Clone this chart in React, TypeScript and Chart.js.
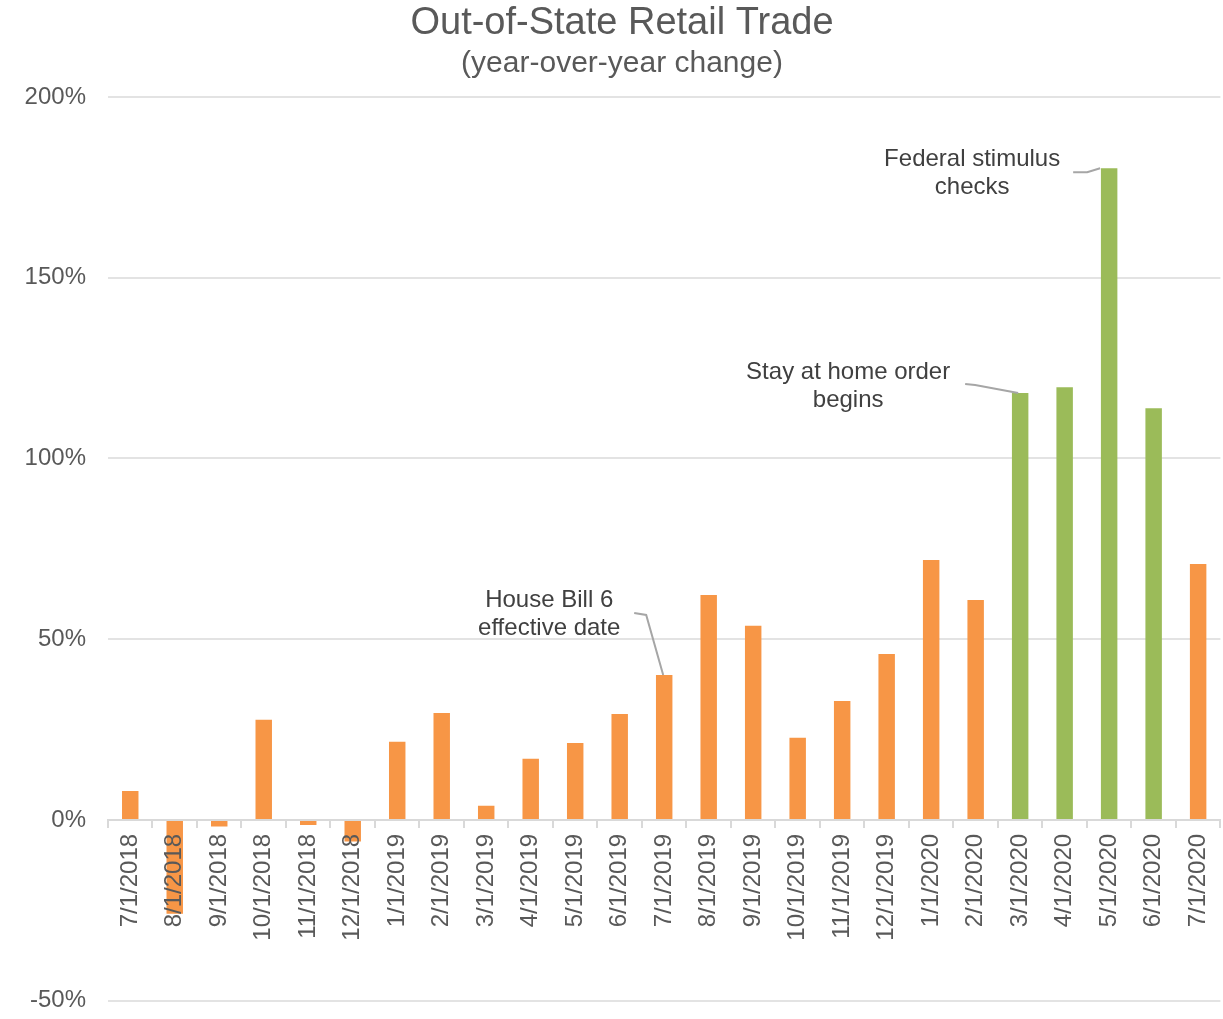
import React, { useEffect, useRef } from "react";
import { Chart, registerables } from "chart.js";

Chart.register(...registerables);

// ---------- data ----------
const categories = [
  "7/1/2018", "8/1/2018", "9/1/2018", "10/1/2018", "11/1/2018", "12/1/2018",
  "1/1/2019", "2/1/2019", "3/1/2019", "4/1/2019", "5/1/2019", "6/1/2019",
  "7/1/2019", "8/1/2019", "9/1/2019", "10/1/2019", "11/1/2019", "12/1/2019",
  "1/1/2020", "2/1/2020", "3/1/2020", "4/1/2020", "5/1/2020", "6/1/2020",
  "7/1/2020",
];

const yoyChange = [
  8, -26, -1.8, 27.7, -1.4, -6,
  21.6, 29.6, 3.9, 16.9, 21.3, 29.3,
  40.1, 62.2, 53.7, 22.7, 32.9, 45.9,
  71.9, 60.8, 118.1, 119.7, 180.3, 113.9,
  70.8,
];

const highlightedMonths = ["3/1/2020", "4/1/2020", "5/1/2020", "6/1/2020"];

const yMin = -50;
const yMax = 200;
const yStep = 50;

const titleText = "Out-of-State Retail Trade";
const subtitleText = "(year-over-year change)";

const annotationLabels = [
  { category: "7/1/2019", lines: ["House Bill 6", "effective date"] },
  { category: "3/1/2020", lines: ["Stay at home order", "begins"] },
  { category: "5/1/2020", lines: ["Federal stimulus", "checks"] },
];

// ---------- styles / layout ----------
const FONT = "'Liberation Sans', Arial, Helvetica, sans-serif";
const ORANGE = "#F79646";
const GREEN = "#9BBB59";
const GRID = "#E3E3E3";
const TICK_TEXT = "#595959";
const ANNOT_TEXT = "#404040";
const LEADER = "#A6A6A6";
const CANVAS_W = 1234;
const CANVAS_H = 1037;

// offsets (pixels) of each annotation relative to its bar top
const annotationLayout = [
  { dx: -115, dy1: -75, dy2: -47, leader: [[-30, -62], [-18, -60], [-1, 0]] },
  { dx: -172, dy1: -21, dy2: 7, leader: [[-55, -9], [-45, -8], [-2, 0]] },
  { dx: -137, dy1: -9, dy2: 19, leader: [[-36, 4], [-22, 4], [-9, 0]] },
];

const titlePlugin = {
  id: "titleText",
  afterDraw(chart: any) {
    const ctx = chart.ctx;
    ctx.save();
    ctx.fillStyle = TICK_TEXT;
    ctx.textAlign = "center";
    ctx.textBaseline = "middle";
    ctx.font = `38px ${FONT}`;
    ctx.fillText(titleText, 622, 24);
    ctx.font = `30px ${FONT}`;
    ctx.fillText(subtitleText, 622, 64);
    ctx.restore();
  },
};

const annotationPlugin = {
  id: "barAnnotations",
  afterDatasetsDraw(chart: any) {
    const ctx = chart.ctx;
    const meta = chart.getDatasetMeta(0);
    ctx.save();
    annotationLabels.forEach((a, i) => {
      const idx = categories.indexOf(a.category);
      const el = meta.data[idx];
      if (!el) return;
      const bx = el.x;
      const by = el.y;
      const lay = annotationLayout[i];
      ctx.fillStyle = ANNOT_TEXT;
      ctx.font = `24px ${FONT}`;
      ctx.textAlign = "center";
      ctx.textBaseline = "middle";
      ctx.fillText(a.lines[0], bx + lay.dx, by + lay.dy1);
      ctx.fillText(a.lines[1], bx + lay.dx, by + lay.dy2);
      ctx.strokeStyle = LEADER;
      ctx.lineWidth = 2;
      ctx.beginPath();
      lay.leader.forEach((p, j) => {
        if (j === 0) ctx.moveTo(bx + p[0], by + p[1]);
        else ctx.lineTo(bx + p[0], by + p[1]);
      });
      ctx.stroke();
    });
    ctx.restore();
  },
};

export default function App() {
  const canvasRef = useRef<HTMLCanvasElement | null>(null);

  useEffect(() => {
    if (!canvasRef.current) return;
    const colors = categories.map((c) =>
      highlightedMonths.includes(c) ? GREEN : ORANGE
    );
    const chart = new Chart(canvasRef.current, {
      type: "bar",
      data: {
        labels: categories,
        datasets: [
          {
            data: yoyChange,
            backgroundColor: colors,
            borderWidth: 0,
            categoryPercentage: 1,
            barPercentage: 0.37,
          },
        ],
      },
      options: {
        animation: false,
        responsive: false,
        maintainAspectRatio: false,
        layout: { padding: { top: 97, bottom: 18, left: 0, right: 3 } },
        plugins: {
          legend: { display: false },
          title: { display: false },
          tooltip: { enabled: false },
        },
        scales: {
          x: {
            position: { y: 0 } as any,
            grid: {
              display: true,
              drawOnChartArea: false,
              drawTicks: true,
              tickLength: 7,
              color: "#D9D9D9",
              lineWidth: 2,
              offset: true,
              z: 1,
            } as any,
            border: { display: true, color: "#D9D9D9", width: 2, z: 1 } as any,
            ticks: {
              autoSkip: false,
              minRotation: 90,
              maxRotation: 90,
              padding: 7,
              color: TICK_TEXT,
              font: { family: FONT, size: 24 },
              z: 1,
            } as any,
          },
          y: {
            min: yMin,
            max: yMax,
            afterFit(scale: any) {
              scale.width = 108;
            },
            grid: {
              color: GRID,
              lineWidth: 2,
              drawTicks: false,
            },
            border: { display: false },
            ticks: {
              stepSize: yStep,
              padding: 22,
              color: TICK_TEXT,
              font: { family: FONT, size: 24 },
              callback: (v: any) => `${v}%`,
            },
          },
        },
      },
      plugins: [titlePlugin, annotationPlugin],
    });
    return () => chart.destroy();
  }, []);

  return (
    <div
      style={{
        position: "fixed",
        left: 0,
        top: 0,
        width: CANVAS_W,
        height: CANVAS_H,
        background: "#ffffff",
      }}
    >
      <canvas
        ref={canvasRef}
        width={CANVAS_W}
        height={CANVAS_H}
        style={{ display: "block", width: CANVAS_W, height: CANVAS_H }}
      />
    </div>
  );
}
